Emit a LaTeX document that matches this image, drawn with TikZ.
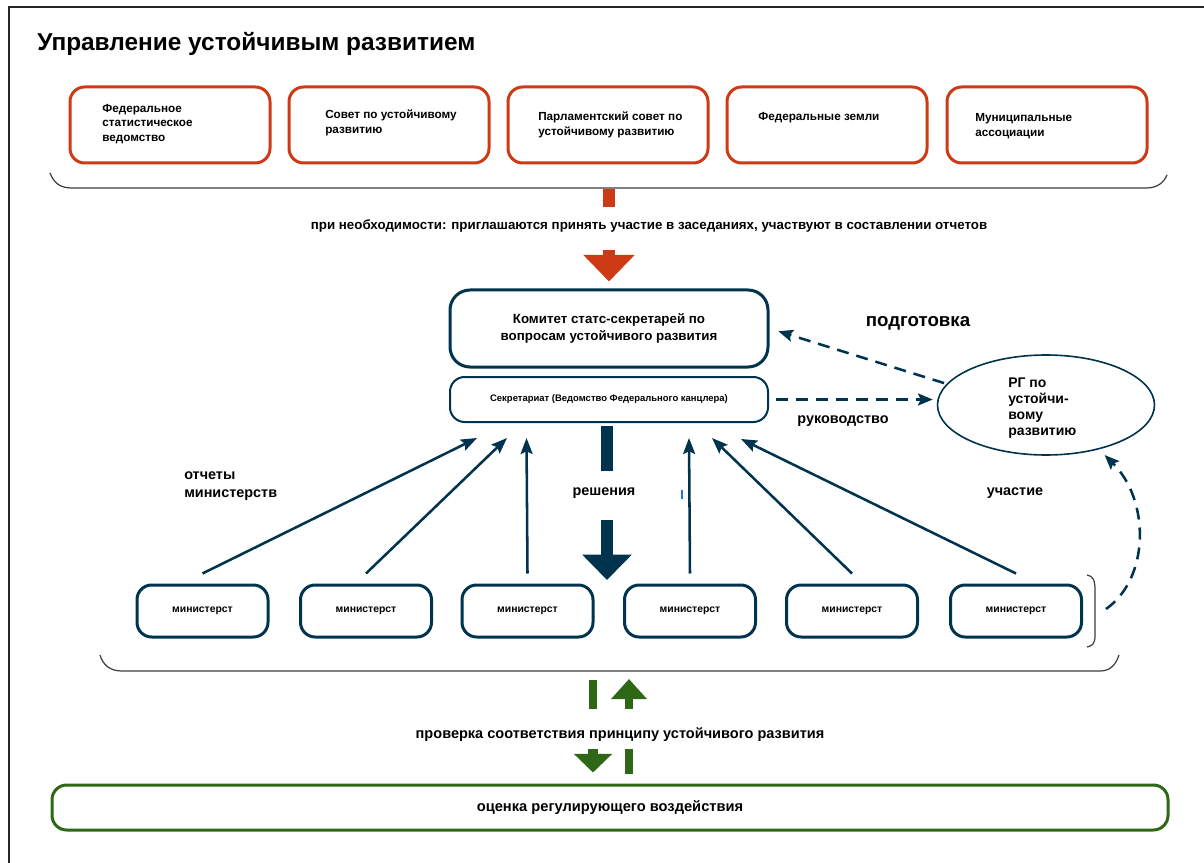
\documentclass[tikz,border=0pt]{standalone}
\usepackage{fontspec}
\setmainfont{Liberation Sans}
\usetikzlibrary{arrows.meta,shapes.geometric,calc}
\definecolor{redorange}{RGB}{204,58,22}
\definecolor{navy}{RGB}{0,51,77}
\definecolor{leafgreen}{RGB}{46,104,22}
\definecolor{bracketgray}{RGB}{60,60,60}

\begin{document}
\begin{tikzpicture}[x=0.75pt,y=0.75pt,yscale=-1,xscale=1,
  orgbox/.style={draw=redorange, line width=2.25pt, rounded corners=11pt, minimum width=150pt, minimum height=57pt},
  orgtext/.style={anchor=west, inner sep=0pt, align=left, font=\bfseries\fontsize{8.8}{11}\selectfont},
  ministry/.style={draw=navy, line width=2.25pt, rounded corners=11pt, minimum width=98.25pt, minimum height=39pt, font=\bfseries\fontsize{7.8}{9}\selectfont},
  lbltext/.style={inner sep=0pt, align=left, font=\bfseries\fontsize{10.8}{14}\selectfont},
  report/.style={draw=navy, line width=1.9pt, -{Stealth[length=12pt,width=9pt,inset=2pt]}},
  guide/.style={draw=navy, line width=1.9pt, dash pattern=on 9pt off 6pt, -{Stealth[length=11pt,width=9pt,inset=2pt]}},
  bracket/.style={draw=bracketgray, line width=0.9pt},
]
\useasboundingbox (0,0) rectangle (1204,863);

%Shape: Frame
\draw [line width=1.5pt, color=black!85] (9,863) -- (9,7) -- (1204,7);

% Text Node
\node [anchor=west, inner sep=0pt, font=\bfseries\fontsize{18.3}{22}\selectfont] (title) at (37,44) {Управление устойчивым развитием};

%Shape: Rounded Rectangle [top row]
\node [orgbox] (fedstat) at (170,125) {};
\node [orgbox] (council) at (389,125) {};
\node [orgbox] (parl) at (608,125) {};
\node [orgbox] (laender) at (827,125) {};
\node [orgbox] (municip) at (1047,125) {};

% Text Node
\node [orgtext] (fedstattxt) at (102,124) {Федеральное\\статистическое\\ведомство};
% Text Node
\node [orgtext] (counciltxt) at (325,123) {Совет по устойчивому\\развитию};
% Text Node
\node [orgtext] (parltxt) at (538,125) {Парламентский совет по\\устойчивому развитию};
% Text Node
\node [orgtext] (laendertxt) at (758,118) {Федеральные земли};
% Text Node
\node [orgtext] (municiptxt) at (975,126) {Муниципальные\\ассоциации};

%Shape: Bracket [top row]
\draw [bracket] (50,173) .. controls (54,183) and (60,188) .. (72,188) -- (1146,188) .. controls (1158,188) and (1164,182) .. (1167,175);
\coordinate (topbrk) at (609,189);

%Shape: Rounded Rectangle [committee]
\node [draw=navy, line width=2.25pt, rounded corners=15pt, minimum width=238.5pt, minimum height=57.75pt, align=center, font=\bfseries\fontsize{10}{12.5}\selectfont] (comm) at (609,328.5) {Комитет статс-секретарей по\\вопросам устойчивого развития};
%Shape: Rounded Rectangle [secretariat]
\node [draw=navy, line width=1.5pt, rounded corners=11pt, minimum width=238.5pt, minimum height=33.75pt, font=\bfseries\fontsize{7.1}{9}\selectfont] (sec) at (609,399.5) {Секретариат (Ведомство Федерального канцлера)};

%Shape: Ellipse
\node [draw=navy, line width=1.2pt, ellipse, minimum width=162.75pt, minimum height=75pt] (rg) at (1046,405) {};
% Text Node
\node [anchor=west, inner sep=0pt, align=left, font=\bfseries\fontsize{10.5}{12}\selectfont] (rgtxt) at (1008,408) {РГ по\\устойчи-\\вому\\развитию};

% red arrow
\draw [redorange, line width=9pt] (topbrk) -- (609,207);
% Text Node
\node [inner sep=0pt, font=\bfseries\fontsize{10}{12}\selectfont] (invite) at (649,226) {при необходимости: приглашаются принять участие в заседаниях, участвуют в составлении отчетов};
\draw [redorange, line width=9pt, -{Triangle[length=20pt,width=37.5pt]}] (609,250) -- ($(comm.north)+(0,-7)$);

% Text Node
\node [inner sep=0pt, font=\bfseries\fontsize{14}{16}\selectfont] (prep) at (918,323) {подготовка};
% Text Node
\node [lbltext] (lead) at (843,421) {руководство};
\draw [guide, shorten <=2pt, shorten >=7pt] (rg.168) -- (comm.east);
\draw [guide, shorten <=5pt, shorten >=3pt] (sec.east) -- (rg.west |- sec.east);

%Shape: Rounded Rectangle [ministries]
\node [ministry] (min1) at (202.5,611) {министерст};
\node [ministry] (min2) at (366,611) {министерст};
\node [ministry] (min3) at (527.5,611) {министерст};
\node [ministry] (min4) at (690,611) {министерст};
\node [ministry] (min5) at (852,611) {министерст};
\node [ministry] (min6) at (1016,611) {министерст};

\draw [report] ($(min1.north)+(0,-10)$) -- ($(sec.south west)+(28,15)$);
\draw [report] ($(min2.north)+(0,-10)$) -- ($(sec.south west)+(58,15)$);
\draw [report] ($(min3.north)+(0,-10)$) -- ($(sec.south west)+(77.5,15)$);
\draw [report] ($(min4.north)+(0,-10)$) -- ($(sec.south west)+(240,15)$);
\draw [report] ($(min5.north)+(0,-10)$) -- ($(sec.south west)+(263,15)$);
\draw [report] ($(min6.north)+(0,-10)$) -- ($(sec.south west)+(292,16)$);

% Text Node
\node [lbltext, anchor=west] (reports) at (184,486) {отчеты\\министерств};
% Text Node
\node [lbltext] (part) at (1015,493) {участие};

% decisions arrow
\draw [navy, line width=9pt] ($(sec.south)+(-2,3)$) -- ++(0,45);
% Text Node
\node [lbltext] (dec) at (604,493) {решения};
\draw [navy, line width=9pt, -{Triangle[length=19pt,width=36pt]}] (607,520) -- (607,580);
\draw [color={rgb,255:red,30;green,120;blue,220}, line width=0.8pt] (682,490) -- (682,499);

%Shape: Bracket [ministries right]
\draw [bracket] (1087,575) .. controls (1093,576) and (1095,580) .. (1095,590) -- (1095,636) .. controls (1095,644) and (1092,646) .. (1087,647);
\coordinate (rbrk) at (1106,609);
\draw [guide, shorten >=6pt] (rbrk) .. controls (1150,578) and (1150,500) .. (rg.-40);

%Shape: Bracket [ministries bottom]
\draw [bracket] (100,655) .. controls (103,665) and (110,671) .. (122,671) -- (1100,671) .. controls (1111,671) and (1116,664) .. (1119,655);

%Shape: Rounded Rectangle [impact assessment]
\node [draw=leafgreen, line width=2.25pt, rounded corners=11pt, minimum width=837pt, minimum height=33.75pt, font=\bfseries\fontsize{11}{13}\selectfont] (ria) at (610,807.5) {оценка регулирующего воздействия};

% green arrows
\draw [leafgreen, line width=6pt] (593,680) -- (593,709);
\draw [leafgreen, line width=6pt, -{Triangle[length=15pt,width=26pt]}] (629,709) -- (629,679);
% Text Node
\node [inner sep=0pt, font=\bfseries\fontsize{10.9}{13}\selectfont] (check) at (620,735) {проверка соответствия принципу устойчивого развития};
\draw [leafgreen, line width=8pt, -{Triangle[length=14pt,width=28pt]}] (593,749) -- ($(ria.north)+(-17,-11)$);
\draw [leafgreen, line width=6.5pt] ($(ria.north)+(19,-10)$) -- (629,749);

\end{tikzpicture}
\end{document}
